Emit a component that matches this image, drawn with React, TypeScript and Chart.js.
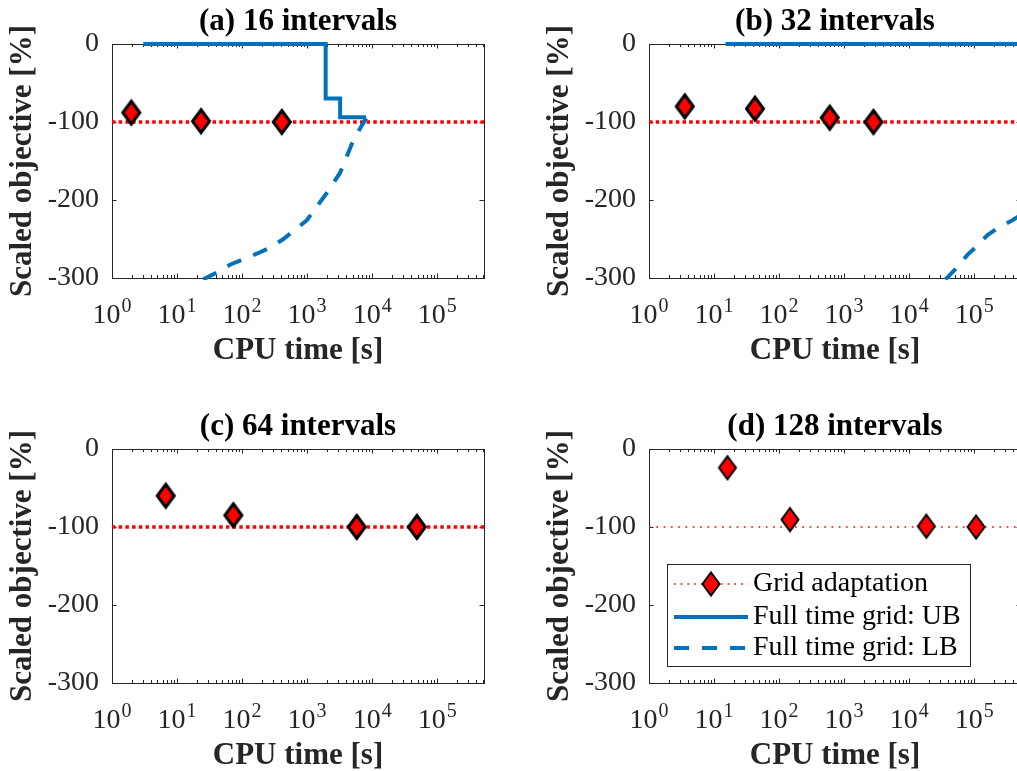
import React, { useEffect, useRef } from 'react';
import { Chart, registerables } from 'chart.js';

Chart.register(...registerables);

// ---------------- data ----------------
const X_MIN = 1;
const X_MAX = 5.25e5;
const Y_MIN = -300;
const Y_MAX = 0;
const Y_STEP = 100;
const Y_TICKS = [0, -100, -200, -300];
const X_TICK_EXPONENTS = [0, 1, 2, 3, 4, 5];
const REFERENCE_LEVEL = -100;

const titles = ['(a) 16 intervals', '(b) 32 intervals', '(c) 64 intervals', '(d) 128 intervals'];
const xAxisLabel = 'CPU time [s]';
const yAxisLabel = 'Scaled objective [%]';
const legendLabels = ['Grid adaptation', 'Full time grid: UB', 'Full time grid: LB'];

// Grid adaptation (diamonds)
const gridA_time = [1.98, 23.4, 408];
const gridA_obj = [-88, -99, -100];
const gridB_time = [3.55, 42.6, 601, 2820];
const gridB_obj = [-80, -83, -94.5, -100];
const gridC_time = [6.7, 73.5, 5800, 48700];
const gridC_obj = [-60, -85, -100, -100];
const gridD_time = [16.1, 147, 18400, 107000];
const gridD_obj = [-24, -90.5, -99, -100];

// Full time grid: upper bound (stepped) and lower bound
const ubA_time = [3.03, 1930, 3220, 8090];
const ubA_obj = [0, -70, -94, -94];
const lbA_time = [25, 43, 65, 111, 178, 270, 432, 654, 988, 1930, 3220, 5160, 8090];
const lbA_obj = [-302, -292, -283, -275, -268, -261, -250, -238, -226, -193, -165, -123, -95];

const ubB_time = [15, 525000];
const ubB_obj = [0, 0];
const lbB_time = [36000, 49800, 79500, 107000, 160700, 228600, 387000, 525000];
const lbB_obj = [-302, -290, -270, -260, -245, -236, -226, -219];

// ---------------- styles ----------------
const FONT = "'Liberation Serif', 'Times New Roman', serif";
const AXIS_COLOR = '#262626';
const BLUE = '#0072BD';
const RED = '#FF0000';
const LB_DASH = [15, 13];

function makeDiamond(edge: number): HTMLCanvasElement {
  const hw = 8.5;
  const hh = 11.5;
  const c = document.createElement('canvas');
  c.width = 26;
  c.height = 32;
  const ctx = c.getContext('2d')!;
  ctx.beginPath();
  ctx.moveTo(13, 16 - hh);
  ctx.lineTo(13 + hw, 16);
  ctx.lineTo(13, 16 + hh);
  ctx.lineTo(13 - hw, 16);
  ctx.closePath();
  ctx.fillStyle = RED;
  ctx.fill();
  ctx.lineWidth = edge;
  ctx.lineJoin = 'miter';
  ctx.strokeStyle = '#000';
  ctx.stroke();
  return c;
}

interface PanelDef {
  title: string;
  gx: number[];
  gy: number[];
  ubx?: number[];
  uby?: number[];
  lbx?: number[];
  lby?: number[];
  thin: boolean;
  legend: boolean;
  left: number;
  top: number;
}

const panels: PanelDef[] = [
  { title: titles[0], gx: gridA_time, gy: gridA_obj, ubx: ubA_time, uby: ubA_obj, lbx: lbA_time, lby: lbA_obj, thin: false, legend: false, left: 0, top: 0 },
  { title: titles[1], gx: gridB_time, gy: gridB_obj, ubx: ubB_time, uby: ubB_obj, lbx: lbB_time, lby: lbB_obj, thin: false, legend: false, left: 537, top: 0 },
  { title: titles[2], gx: gridC_time, gy: gridC_obj, thin: false, legend: false, left: 0, top: 405 },
  { title: titles[3], gx: gridD_time, gy: gridD_obj, thin: true, legend: true, left: 537, top: 405 },
];

const zip = (xs: number[], ys: number[]) => xs.map((x, i) => ({ x, y: ys[i] }));

function drawLegend(ctx: CanvasRenderingContext2D, a: any, diamond: HTMLCanvasElement) {
  const bx = Math.round(a.left + 18);
  const by = Math.round(a.top + 115);
  const bw = 303;
  const bh = 102;
  ctx.save();
  ctx.fillStyle = '#fff';
  ctx.fillRect(bx, by, bw, bh);
  ctx.strokeStyle = AXIS_COLOR;
  ctx.lineWidth = 1;
  ctx.setLineDash([]);
  ctx.strokeRect(bx + 0.5, by + 0.5, bw, bh);
  const rows = [20, 53, 84];
  const x0 = bx + 7;
  const x1 = bx + 81;
  // row 1: dotted red + diamond
  ctx.strokeStyle = RED;
  ctx.lineWidth = 1.7;
  ctx.setLineDash([1.7, 5]);
  ctx.beginPath();
  ctx.moveTo(x0, by + rows[0]);
  ctx.lineTo(x1, by + rows[0]);
  ctx.stroke();
  ctx.setLineDash([]);
  ctx.drawImage(diamond, (x0 + x1) / 2 - diamond.width / 2, by + rows[0] - diamond.height / 2);
  // row 2: solid blue
  ctx.strokeStyle = BLUE;
  ctx.lineWidth = 4;
  ctx.beginPath();
  ctx.moveTo(x0, by + rows[1]);
  ctx.lineTo(x1, by + rows[1]);
  ctx.stroke();
  // row 3: dashed blue
  ctx.setLineDash(LB_DASH);
  ctx.beginPath();
  ctx.moveTo(x0, by + rows[2]);
  ctx.lineTo(x1, by + rows[2]);
  ctx.stroke();
  ctx.setLineDash([]);
  // texts
  ctx.fillStyle = '#000';
  ctx.font = `28px ${FONT}`;
  ctx.textAlign = 'left';
  ctx.textBaseline = 'middle';
  legendLabels.forEach((t, i) => ctx.fillText(t, bx + 86, by + rows[i]));
  ctx.restore();
}

function buildConfig(p: PanelDef): any {
  const diamond = makeDiamond(p.thin ? 2 : 3);
  const datasets: any[] = [
    {
      label: legendLabels[0],
      data: zip(p.gx, p.gy),
      showLine: false,
      pointStyle: diamond,
      pointRadius: 6,
      pointHoverRadius: 6,
      borderColor: '#000',
      backgroundColor: RED,
      clip: 20,
    },
  ];
  if (p.ubx && p.uby) {
    datasets.push({
      label: legendLabels[1],
      data: zip(p.ubx, p.uby),
      stepped: 'before',
      borderColor: BLUE,
      borderWidth: 4,
      pointRadius: 0,
      fill: false,
      clip: 2.5,
    });
  }
  if (p.lbx && p.lby) {
    datasets.push({
      label: legendLabels[2],
      data: zip(p.lbx, p.lby),
      borderColor: BLUE,
      borderWidth: 4,
      borderDash: LB_DASH,
      pointRadius: 0,
      tension: 0,
      fill: false,
      clip: 2,
    });
  }
  datasets.push({
    label: 'reference',
    data: [
      { x: X_MIN, y: REFERENCE_LEVEL },
      { x: X_MAX, y: REFERENCE_LEVEL },
    ],
    borderColor: RED,
    borderWidth: p.thin ? 1.7 : 3.5,
    borderDash: p.thin ? [1.7, 5.6] : [3.5, 3.2],
    pointRadius: 0,
    fill: false,
  });

  const decor = {
    id: 'decor',
    beforeDatasetsDraw(chart: any) {
      const { ctx, chartArea: a } = chart;
      const xs = chart.scales.x;
      const ys = chart.scales.y;
      ctx.save();
      ctx.strokeStyle = AXIS_COLOR;
      ctx.lineWidth = 1;
      ctx.setLineDash([]);
      ctx.beginPath();
      for (const e of X_TICK_EXPONENTS) {
        for (let m = 1; m <= 9; m++) {
          const v = m * Math.pow(10, e);
          if (v < X_MIN || v > X_MAX) continue;
          const px = Math.round(xs.getPixelForValue(v)) + 0.5;
          const len = m === 1 ? 4.5 : 3;
          ctx.moveTo(px, a.bottom);
          ctx.lineTo(px, a.bottom - len);
          ctx.moveTo(px, a.top);
          ctx.lineTo(px, a.top + len);
        }
      }
      for (const t of Y_TICKS) {
        const py = Math.round(ys.getPixelForValue(t)) + 0.5;
        ctx.moveTo(a.left, py);
        ctx.lineTo(a.left + 4.5, py);
        ctx.moveTo(a.right, py);
        ctx.lineTo(a.right - 4.5, py);
      }
      ctx.stroke();
      ctx.strokeRect(a.left + 0.5, a.top + 0.5, a.right - a.left, a.bottom - a.top);

      // x tick labels 10^k
      ctx.fillStyle = AXIS_COLOR;
      ctx.textAlign = 'left';
      ctx.textBaseline = 'alphabetic';
      for (const e of X_TICK_EXPONENTS) {
        const px = xs.getPixelForValue(Math.pow(10, e));
        ctx.font = `28px ${FONT}`;
        const wb = ctx.measureText('10').width;
        ctx.font = `20px ${FONT}`;
        const we = ctx.measureText(String(e)).width;
        const x0 = px - (wb + we + 1) / 2;
        ctx.font = `28px ${FONT}`;
        ctx.fillText('10', x0, a.bottom + 45);
        ctx.font = `20px ${FONT}`;
        ctx.fillText(String(e), x0 + wb + 1, a.bottom + 34);
      }

      // title
      ctx.fillStyle = '#000';
      ctx.font = `bold 31px ${FONT}`;
      ctx.textAlign = 'center';
      ctx.textBaseline = 'middle';
      ctx.fillText(p.title, (a.left + a.right) / 2, a.top - 22);
      ctx.restore();
    },
    afterDraw(chart: any) {
      if (p.legend) drawLegend(chart.ctx, chart.chartArea, diamond);
    },
  };

  return {
    type: 'line',
    data: { datasets },
    options: {
      responsive: false,
      maintainAspectRatio: false,
      animation: false,
      events: [],
      devicePixelRatio: 1,
      layout: { padding: { left: 0, right: 16, top: 44, bottom: 0 } },
      plugins: {
        legend: { display: false },
        title: { display: false },
        tooltip: { enabled: false },
      },
      scales: {
        x: {
          type: 'logarithmic',
          position: 'bottom',
          min: X_MIN,
          max: X_MAX,
          grid: { display: false, drawTicks: false },
          border: { display: false },
          ticks: { display: false },
          title: {
            display: true,
            text: xAxisLabel,
            color: AXIS_COLOR,
            font: { family: FONT, size: 31, weight: 'bold' },
            padding: { top: 0, bottom: 20 },
          },
          afterFit: (s: any) => {
            s.height = 112;
          },
        },
        y: {
          type: 'linear',
          position: 'left',
          min: Y_MIN,
          max: Y_MAX,
          grid: { display: false, drawTicks: false },
          border: { display: false },
          ticks: {
            stepSize: Y_STEP,
            padding: 13,
            color: AXIS_COLOR,
            font: { family: FONT, size: 28 },
            callback: (v: any) => String(v),
          },
          title: {
            display: true,
            text: yAxisLabel,
            color: AXIS_COLOR,
            font: { family: FONT, size: 31, weight: 'bold' },
            padding: { top: 4, bottom: 0 },
          },
          afterFit: (s: any) => {
            s.width = 112;
          },
        },
      },
    },
    plugins: [decor],
  };
}

function Panel({ p }: { p: PanelDef }) {
  const ref = useRef<HTMLCanvasElement>(null);
  useEffect(() => {
    const chart = new Chart(ref.current as HTMLCanvasElement, buildConfig(p));
    return () => chart.destroy();
  }, [p]);
  return (
    <canvas
      ref={ref}
      width={500}
      height={390}
      style={{ position: 'absolute', left: p.left, top: p.top, width: 500, height: 390 }}
    />
  );
}

export default function App() {
  return (
    <div
      style={{
        position: 'fixed',
        left: 0,
        top: 0,
        width: 1017,
        height: 771,
        overflow: 'hidden',
        background: '#fff',
      }}
    >
      {panels.map((p) => (
        <Panel key={p.title} p={p} />
      ))}
    </div>
  );
}
